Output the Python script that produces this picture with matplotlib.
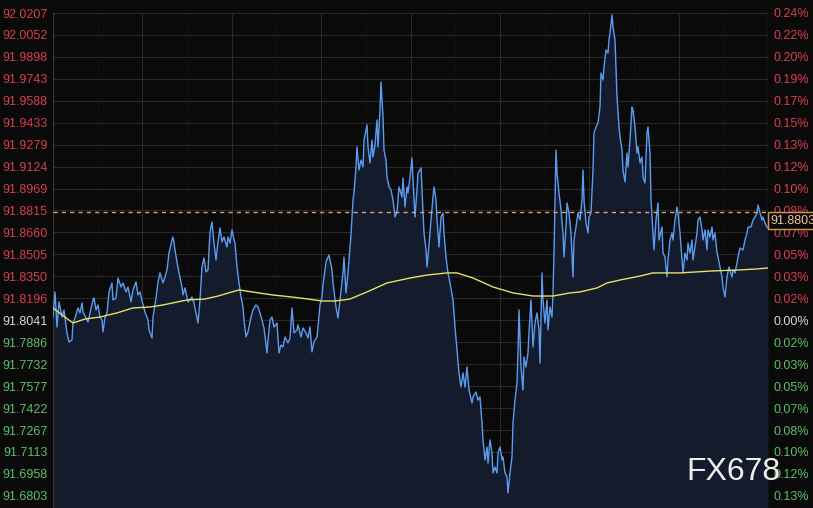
import matplotlib
matplotlib.use("Agg")
import matplotlib.pyplot as plt
import matplotlib.transforms as mtransforms

plt.rcParams['font.family'] = ['Liberation Sans', 'DejaVu Sans']

# ---- data ----
prev_close = 91.8041
last_price = 91.8803

ticks = [92.0207, 92.0052, 91.9898, 91.9743, 91.9588, 91.9433, 91.9279, 91.9124,
         91.8969, 91.8815, 91.8660, 91.8505, 91.8350, 91.8196, 91.8041, 91.7886,
         91.7732, 91.7577, 91.7422, 91.7267, 91.7113, 91.6958, 91.6803]

minutes = [
    0, 4, 8, 12, 18, 22, 28, 32, 38, 40,
    44, 50, 54, 58, 60, 66, 70, 74, 80, 82,
    86, 90, 94, 98, 100, 104, 108, 112, 118, 120,
    126, 130, 136, 140, 146, 150, 156, 160, 166, 170,
    174, 180, 184, 190, 192, 198, 200, 206, 210, 214,
    220, 224, 228, 232, 238, 240, 244, 248, 252, 258,
    260, 264, 270, 278, 282, 290, 294, 298, 302, 306,
    310, 314, 318, 322, 326, 330, 334, 338, 342, 348,
    350, 354, 358, 362, 364, 368, 372, 376, 380, 382,
    386, 390, 396, 400, 406, 410, 414, 418, 422, 428,
    430, 434, 438, 442, 448, 452, 456, 460, 464, 470,
    474, 478, 482, 488, 490, 496, 500, 506, 510, 514,
    518, 522, 528, 530, 534, 538, 540, 546, 552, 558,
    560, 566, 570, 574, 580, 582, 586, 590, 592, 596,
    600, 602, 606, 608, 612, 616, 620, 622, 628, 630,
    634, 638, 640, 644, 648, 650, 654, 656, 660, 662,
    666, 668, 672, 676, 680, 684, 688, 692, 698, 700,
    704, 708, 710, 714, 718, 720, 724, 728, 730, 736,
    740, 742, 746, 748, 752, 756, 760, 762, 766, 768,
    772, 776, 780, 782, 786, 790, 794, 800, 804, 808,
    812, 816, 820, 824, 828, 832, 838, 840, 846, 850,
    854, 858, 860, 864, 868, 870, 874, 878, 880, 884,
    888, 890, 894, 898, 900, 904, 908, 910, 914, 918,
    920, 924, 928, 930, 932, 936, 940, 942, 946, 950,
    952, 956, 960, 964, 968, 972, 974, 978, 980, 984,
    988, 990, 994, 998, 1000, 1002, 1006, 1008, 1012, 1016,
    1020, 1022, 1026, 1028, 1032, 1036, 1040, 1042, 1046, 1050,
    1054, 1058, 1060, 1062, 1066, 1070, 1072, 1076, 1080, 1082,
    1086, 1090, 1094, 1096, 1100, 1102, 1106, 1110, 1112, 1114,
    1118, 1120, 1124, 1126, 1128, 1132, 1134, 1138, 1140, 1144,
    1148, 1150, 1154, 1158, 1160, 1164, 1168, 1170, 1174, 1178,
    1180, 1184, 1188, 1190, 1194, 1196, 1200, 1202, 1206, 1210,
    1212, 1218, 1220, 1224, 1228, 1230, 1234, 1238, 1240, 1244,
    1248, 1250, 1254, 1258, 1260, 1264, 1268, 1270, 1274, 1278,
    1280, 1284, 1288, 1290, 1294, 1298, 1300, 1304, 1308, 1310,
    1314, 1318, 1320, 1324, 1328, 1330, 1334, 1338, 1340, 1344,
    1346, 1348, 1352, 1358, 1360, 1364, 1368, 1370, 1374, 1380,
    1384, 1388, 1390, 1396, 1400, 1404, 1408, 1410, 1414, 1418,
    1420, 1424, 1428, 1430,
]

price = [
    91.8064, 91.8241, 91.7994, 91.8170, 91.8064, 91.8114, 91.7952, 91.7888, 91.7902, 91.8022,
    91.8057, 91.8128, 91.8093, 91.8163, 91.8100, 91.8057, 91.8029, 91.8093, 91.8184, 91.8198,
    91.8114, 91.8149, 91.8064, 91.8043, 91.7959, 91.8064, 91.8093, 91.8241, 91.8304, 91.8184,
    91.8198, 91.8339, 91.8276, 91.8304, 91.8241, 91.8276, 91.8170, 91.8255, 91.8311, 91.8220,
    91.8241, 91.8149, 91.8100, 91.8043, 91.7973, 91.7916, 91.8064, 91.8198, 91.8311, 91.8375,
    91.8304, 91.8346, 91.8396, 91.8515, 91.8607, 91.8628, 91.8537, 91.8452, 91.8375, 91.8276,
    91.8220, 91.8269, 91.8170, 91.8205, 91.8163, 91.8022, 91.8184, 91.8417, 91.8480, 91.8382,
    91.8396, 91.8664, 91.8734, 91.8586, 91.8466, 91.8593, 91.8692, 91.8593, 91.8628, 91.8558,
    91.8628, 91.8586, 91.8678, 91.8607, 91.8586, 91.8417, 91.8304, 91.8205, 91.8135, 91.8043,
    91.7923, 91.7959, 91.8064, 91.8114, 91.8149, 91.8135, 91.8093, 91.8043, 91.7987, 91.7811,
    91.7902, 91.8043, 91.8064, 91.7994, 91.8022, 91.7811, 91.7867, 91.7853, 91.7923, 91.7881,
    91.7916, 91.8128, 91.7952, 91.7973, 91.8008, 91.7923, 91.7987, 91.7952, 91.7916, 91.7994,
    91.7818, 91.7888, 91.7923, 91.7994, 91.8149, 91.8205, 91.8290, 91.8452, 91.8501, 91.8396,
    91.8304, 91.8135, 91.8057, 91.8184, 91.8375, 91.8487, 91.8234, 91.8375, 91.8466, 91.8642,
    91.8889, 91.8938, 91.9122, 91.9263, 91.9100, 91.9171, 91.9122, 91.9312, 91.9418, 91.9263,
    91.9150, 91.9312, 91.9192, 91.9277, 91.9453, 91.9263, 91.9523, 91.9721, 91.9474, 91.9241,
    91.9171, 91.9051, 91.8981, 91.8960, 91.8889, 91.8769, 91.8804, 91.8981, 91.8910, 91.9044,
    91.8840, 91.8981, 91.8938, 91.9051, 91.9185, 91.9030, 91.8769, 91.8960, 91.9079, 91.9115,
    91.8819, 91.8656, 91.8537, 91.8417, 91.8572, 91.8748, 91.8910, 91.8981, 91.8889, 91.8748,
    91.8558, 91.8769, 91.8797, 91.8656, 91.8487, 91.8375, 91.8304, 91.8184, 91.7994, 91.7832,
    91.7670, 91.7571, 91.7670, 91.7571, 91.7712, 91.7550, 91.7458, 91.7501, 91.7536, 91.7479,
    91.7501, 91.7317, 91.7198, 91.7057, 91.7148, 91.7035, 91.7198, 91.7106, 91.6965, 91.7007,
    91.6965, 91.7106, 91.7148, 91.7057, 91.7078, 91.6965, 91.6937, 91.6824, 91.6965, 91.7078,
    91.7317, 91.7479, 91.7599, 91.7811, 91.8114, 91.7712, 91.7550, 91.7782, 91.7712, 91.7811,
    91.7952, 91.8184, 91.7853, 91.8022, 91.8093, 91.7973, 91.7740, 91.8375, 91.8184, 91.8022,
    91.8184, 91.7973, 91.8135, 91.8064, 91.8234, 91.8515, 91.9241, 91.9079, 91.8938, 91.8819,
    91.8656, 91.8487, 91.8699, 91.8868, 91.8797, 91.8656, 91.8346, 91.8607, 91.8699, 91.8797,
    91.8748, 91.8889, 91.9100, 91.8889, 91.8727, 91.8656, 91.8769, 91.8797, 91.9100, 91.9361,
    91.9403, 91.9432, 91.9544, 91.9784, 91.9735, 91.9826, 91.9946, 91.9925, 92.0017, 92.0066,
    92.0193, 92.0108, 92.0017, 91.9826, 91.9615, 91.9403, 91.9333, 91.9241, 91.9100, 91.9016,
    91.9220, 91.9122, 91.9312, 91.9544, 91.9523, 91.9403, 91.9220, 91.9263, 91.9150, 91.9192,
    91.9051, 91.9009, 91.9361, 91.9403, 91.9220, 91.8889, 91.8656, 91.8537, 91.8748, 91.8868,
    91.8607, 91.8699, 91.8515, 91.8487, 91.8346, 91.8466, 91.8607, 91.8656, 91.8607, 91.8748,
    91.8840, 91.8797, 91.8656, 91.8466, 91.8375, 91.8515, 91.8466, 91.8586, 91.8515, 91.8607,
    91.8466, 91.8558, 91.8656, 91.8748, 91.8769, 91.8678, 91.8607, 91.8678, 91.8537, 91.8678,
    91.8628, 91.8699, 91.8607, 91.8656, 91.8515, 91.8487, 91.8417, 91.8346, 91.8276, 91.8205,
    91.8276, 91.8346, 91.8417, 91.8346, 91.8396, 91.8375, 91.8445, 91.8487, 91.8551, 91.8537,
    91.8607, 91.8656, 91.8699, 91.8699, 91.8748, 91.8769, 91.8797, 91.8854, 91.8797, 91.8748,
    91.8769, 91.8727, 91.8699, 91.8692,
]

ma_minutes = [0, 18, 40, 64, 94, 128, 160, 194, 220, 248, 268, 304, 330, 358, 372,
              398, 438, 478, 510, 538, 564, 594, 628, 668, 714, 748, 788, 808, 840,
              880, 920, 960, 1000, 1034, 1054, 1088, 1108, 1134, 1174, 1200, 1254,
              1320, 1374, 1408, 1430]
ma_price = [91.8128, 91.8079, 91.8022, 91.8050, 91.8064, 91.8093, 91.8128, 91.8135,
            91.8149, 91.8170, 91.8184, 91.8191, 91.8212, 91.8241, 91.8255, 91.8241,
            91.8220, 91.8205, 91.8191, 91.8177, 91.8177, 91.8191, 91.8241, 91.8304,
            91.8339, 91.8360, 91.8375, 91.8375, 91.8339, 91.8276, 91.8234, 91.8212,
            91.8212, 91.8234, 91.8241, 91.8269, 91.8304, 91.8325, 91.8353, 91.8375,
            91.8375, 91.8389, 91.8396, 91.8403, 91.8410]

# ---- styling ----
bg = '#0a0a0a'
red = '#d63f4f'
green = '#5cbf6a'
white = '#d8d8d8'
grid_c = '#2a2a2a'
x_end = 1430
y_top = 92.0207
y_bot = 91.6718

fig = plt.figure(figsize=(8.13, 5.08), dpi=100, facecolor=bg)
ax = fig.add_axes([53 / 813, 0, 715 / 813, 495 / 508])
ax.set_facecolor(bg)
ax.set_xlim(0, x_end)
ax.set_ylim(y_bot, y_top)

# grid
for t in ticks:
    ax.axhline(t, color=grid_c, lw=0.8, zorder=0)
for i in range(1, 16):
    if i % 2 == 0:
        ax.axvline(i * x_end / 16, color=grid_c, lw=0.8, zorder=0)
    else:
        ax.axvline(i * x_end / 16, color='#1c1c1c', lw=0.8, ls=(0, (1, 2)), zorder=0)

ax.fill_between(minutes, price, y_bot, color='#131b2d', lw=0, zorder=1)
ax.plot(minutes, price, color='#5b9cf0', lw=1.0, zorder=3)
ax.plot(ma_minutes, ma_price, color='#e6e065', lw=1.0, zorder=4)
ax.axhline(last_price, color='#e8a06a', lw=1.0, ls=(0, (3, 3)), zorder=5)

for s in ax.spines.values():
    s.set_visible(False)
ax.axvline(0, color='#333333', lw=1)
ax.axvline(x_end, color='#333333', lw=1)


def lab_color(v):
    if round(v, 4) > prev_close:
        return red
    if round(v, 4) < prev_close:
        return green
    return white


ax.set_xticks([])
ax.set_yticks(ticks)
ax.set_yticklabels([f"{t:.4f}" for t in ticks], fontsize=9)
ax.tick_params(axis='y', length=0, pad=4)
for lbl, t in zip(ax.get_yticklabels(), ticks):
    lbl.set_color(lab_color(t))

ax2 = ax.twinx()
ax2.set_ylim(y_bot, y_top)
for s in ax2.spines.values():
    s.set_visible(False)
ax2.set_yticks(ticks)
ax2.set_yticklabels([f"{abs(t / prev_close - 1) * 100:.2f}%" for t in ticks], fontsize=9)
ax2.tick_params(axis='y', length=0, pad=4)
for lbl, t in zip(ax2.get_yticklabels(), ticks):
    lbl.set_color(lab_color(t))

# current price tag, drawn over the right-hand labels
trans = mtransforms.blended_transform_factory(ax2.transAxes, ax2.transData)
ax2.text(1.004, last_price - 0.0017, f"{last_price:.4f}", transform=trans, fontsize=9,
         color='#f0c49a', va='top', ha='left', clip_on=False, zorder=10,
         bbox=dict(boxstyle='square,pad=0.2', facecolor=bg, edgecolor='#d8955a', lw=1))

fig.text(733 / 813, 1 - 472 / 508, 'FX678', fontsize=23, color='#eeeeee',
         ha='center', va='center', zorder=10)

fig.savefig('out.png', dpi=100, facecolor=bg)
